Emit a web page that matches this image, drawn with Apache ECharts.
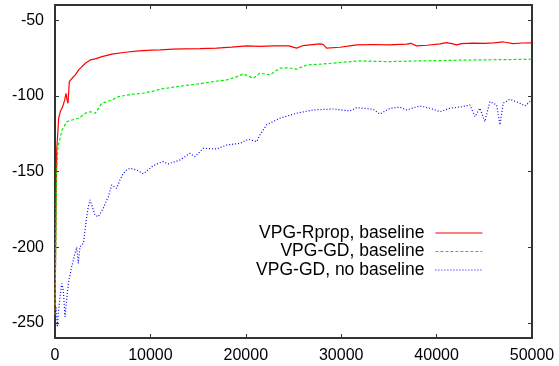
<!DOCTYPE html>
<html>
<head>
<meta charset="utf-8">
<script src="https://cdn.jsdelivr.net/npm/echarts@6/dist/echarts.min.js"></script>
<style>
  html, body { margin: 0; padding: 0; background: #fff; }
  #chart { width: 559px; height: 366px; }
</style>
</head>
<body>
<div id="chart"></div>
<script>
// training steps and average return
const rpropX = [0, 100, 178, 388, 555, 807, 1017, 1153, 1258, 1362, 1500, 1782, 2130, 2480, 2830, 3180, 3700, 4225, 4925, 5970, 7370, 8770, 10165, 11000, 12400, 13450, 15200, 16940, 18500, 20090, 21500, 22880, 24500, 25330, 26000, 27770, 28100, 28470, 29870, 30700, 31620, 33360, 35000, 36860, 37300, 37900, 39000, 40350, 41050, 41600, 42100, 42600, 43840, 45000, 46000, 46980, 47200, 48030, 49000, 50000];
const rpropY = [-245, -180, -136, -114.8, -110.4, -107.1, -102.7, -98.3, -102.7, -104.9, -90.6, -88.4, -86.2, -82.9, -80.7, -78.5, -76.3, -75.6, -74.1, -72.5, -71.2, -70.3, -69.8, -69.6, -69.2, -69, -68.8, -68.5, -67.8, -67, -67.3, -67, -67, -68.5, -66.8, -65.7, -66, -68.5, -67.9, -67.2, -66.3, -66.1, -66.4, -65.9, -65.3, -67, -66.6, -65.7, -64.8, -65.5, -66.3, -65.5, -65.2, -65.4, -65, -64.3, -64.6, -65.5, -65.1, -65];

const gdX = [0, 100, 178, 314, 450, 733, 1258, 1782, 2480, 3180, 3700, 4225, 4925, 5970, 6670, 8070, 9120, 10165, 11000, 12400, 14150, 15300, 16590, 18000, 19000, 19740, 20780, 21480, 22530, 23580, 24500, 25330, 26380, 28000, 29870, 31960, 33500, 35110, 37500, 40350, 43840, 47000, 50000];
const gdY = [-245, -190, -150, -133, -130.3, -122.6, -117, -116, -114.8, -111.5, -110.5, -111.5, -104.9, -102.7, -100.5, -99, -98.3, -97.2, -95.6, -94.3, -92.8, -92, -90.6, -89.5, -87.5, -85.5, -88.4, -85, -86.2, -81.7, -81.5, -82.4, -79.6, -79, -78, -76.9, -77.2, -77.4, -77, -76.7, -76.3, -76.1, -75.8];

const noBaseX = [0, 105, 241, 346, 524, 702, 870, 1048, 1223, 1397, 1747, 2096, 2270, 2443, 2620, 2970, 3320, 3490, 3670, 3846, 4190, 4540, 5060, 5420, 5590, 5940, 6466, 6810, 7160, 7510, 7860, 8560, 9254, 9956, 10300, 11000, 11350, 11870, 12050, 13100, 14150, 14670, 15540, 16940, 18000, 19390, 20260, 21140, 21480, 22180, 23580, 25330, 27070, 29170, 30920, 31620, 33360, 34060, 35110, 36160, 36860, 38250, 39300, 40350, 41400, 42790, 43490, 44020, 44540, 45060, 45590, 46290, 46640, 46980, 47680, 48730, 49250, 50000];
const noBaseY = [-245, -239.4, -252.7, -243.8, -232.8, -224, -228.4, -246, -235, -224, -213, -204.1, -200, -210.7, -199.7, -197.5, -179.9, -173.3, -168.8, -170, -178.8, -179.9, -174.3, -168.8, -166.7, -158.9, -161.1, -155.6, -151.2, -149, -147.9, -149, -151.5, -147.9, -146.2, -144.2, -143.5, -145, -145.7, -142.4, -138, -140.2, -134.7, -135.1, -132.5, -131.4, -128.7, -130.3, -125.9, -119.2, -114.8, -111.5, -109.3, -108.7, -110, -107.8, -108.9, -112, -108.2, -107.5, -109.3, -106.7, -108.2, -110.5, -108.2, -107.1, -106, -113.8, -108.2, -117.1, -103.8, -106, -119.2, -104.9, -102.3, -104.9, -106.7, -102.7];

const seriesNames = ["VPG-Rprop, baseline", "VPG-GD, baseline", "VPG-GD, no baseline"];
const yTicks = [-250, -200, -150, -100, -50];

const zip = (xs, ys) => xs.map((x, i) => [x, ys[i]]);

const chart = echarts.init(document.getElementById("chart"));

const frameLine = { show: true, onZero: false, lineStyle: { color: "#333", width: 2 } };
const FONT = "Liberation Sans";

chart.setOption({
  animation: false,
  textStyle: { fontFamily: FONT },
  grid: { left: 55, top: 5, right: 27, bottom: 28 },
  legend: {
    orient: "vertical",
    align: "right",
    right: 71,
    top: 219,
    itemWidth: 47,
    itemHeight: 10,
    itemGap: 0.5,
    itemStyle: { opacity: 0 },
    lineStyle: { width: 1.2 },
    textStyle: { fontFamily: FONT, fontSize: 17.5, lineHeight: 16, color: "#000", padding: [0, 6, 0, 0] },
    data: seriesNames
  },
  xAxis: [
    {
      type: "value", min: 0, max: 50000, interval: 10000,
      axisLine: frameLine,
      axisTick: { inside: true, length: 4, lineStyle: { color: "#333" } },
      axisLabel: { margin: 10, fontSize: 16, color: "#000", fontFamily: FONT, formatter: v => String(v) },
      splitLine: { show: false }
    },
    {
      type: "value", position: "top", min: 0, max: 50000, interval: 10000,
      axisLine: frameLine,
      axisTick: { inside: true, length: 4, lineStyle: { color: "#333" } },
      axisLabel: { show: false },
      splitLine: { show: false }
    }
  ],
  yAxis: [
    {
      type: "value", min: -260, max: -40,
      axisLine: frameLine,
      axisTick: { inside: true, length: 4, customValues: yTicks, lineStyle: { color: "#333" } },
      axisLabel: { margin: 11, fontSize: 16, color: "#000", fontFamily: FONT, customValues: yTicks },
      splitLine: { show: false }
    },
    {
      type: "value", position: "right", min: -260, max: -40,
      axisLine: frameLine,
      axisTick: { inside: true, length: 4, customValues: yTicks, lineStyle: { color: "#333" } },
      axisLabel: { show: false },
      splitLine: { show: false }
    }
  ],
  series: [
    {
      name: seriesNames[0], type: "line", showSymbol: false, symbol: "none",
      data: zip(rpropX, rpropY),
      lineStyle: { color: "#ff0000", width: 1.2 },
      itemStyle: { color: "#ff0000" }
    },
    {
      name: seriesNames[1], type: "line", showSymbol: false, symbol: "none",
      data: zip(gdX, gdY),
      lineStyle: { color: "#00ee00", width: 1.2, type: [3, 2] },
      itemStyle: { color: "#00ee00" }
    },
    {
      name: seriesNames[2], type: "line", showSymbol: false, symbol: "none",
      data: zip(noBaseX, noBaseY),
      lineStyle: { color: "#0000ff", width: 1.2, type: [1, 2] },
      itemStyle: { color: "#0000ff" }
    }
  ]
});
</script>
</body>
</html>
